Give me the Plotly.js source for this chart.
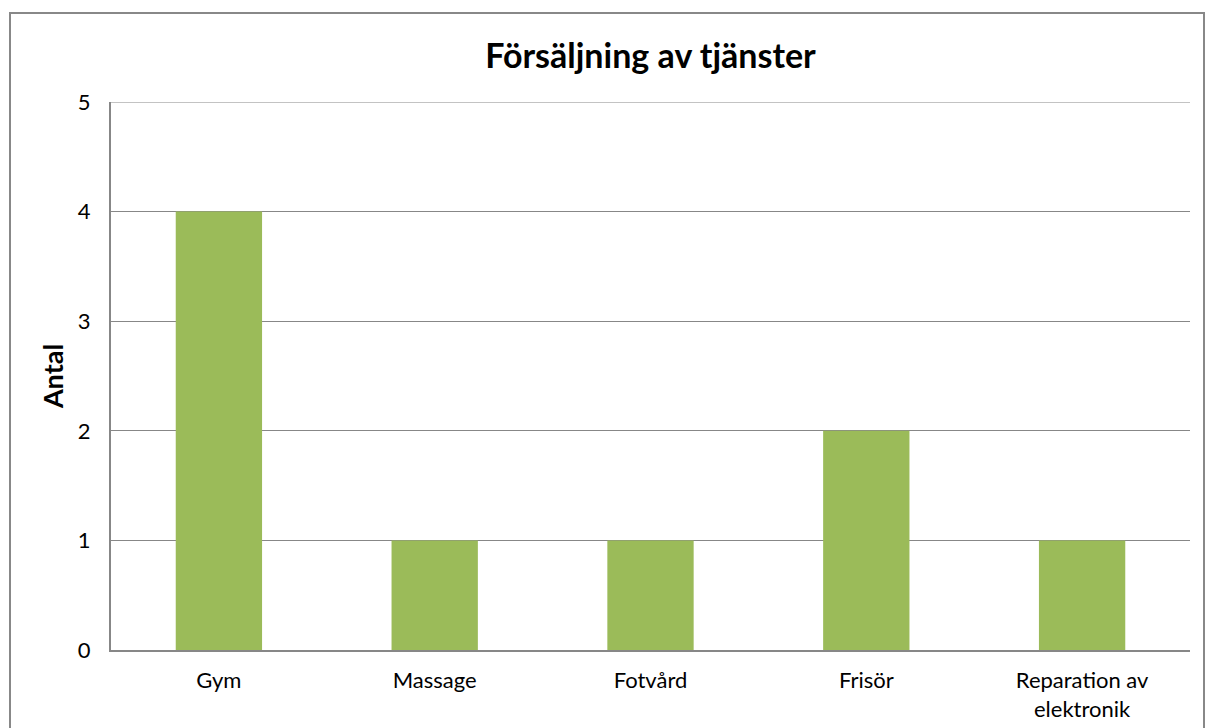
<!DOCTYPE html>
<html><head><meta charset="utf-8">
<script src="https://cdn.plot.ly/plotly-3.0.1.min.js"></script>
<style>
html,body{margin:0;padding:0;background:#fff;overflow:hidden;}
#chart{width:1208px;height:728px;}
#frame{position:absolute;left:9px;top:12px;width:1196px;height:800px;border:2px solid #888;box-sizing:border-box;pointer-events:none;}
</style></head>
<body>
<div id="chart"></div>
<div id="frame"></div>
<script>
const categories = ["Gym", "Massage", "Fotvård", "Frisör", "Reparation av<br>elektronik"];
const values = [4, 1, 1, 2, 1];
const yTicks = [0, 1, 2, 3, 4, 5];
const yTickLabels = ["0", "1", "2", "3", "4", "5"];

const trace = {
  type: "bar",
  x: categories,
  y: values,
  marker: {color: "#9BBB59"},
  hoverinfo: "x+y"
};

const layout = {
  width: 1208, height: 728,
  margin: {l: 111, r: 18, t: 102, b: 78},
  paper_bgcolor: "#fff",
  plot_bgcolor: "#fff",
  font: {family: "Lato, 'Open Sans', sans-serif", color: "#000", size: 22},
  title: {text: "<b>Försäljning av tjänster</b>", x: 0.5, xref: "paper", y: 0.923, yanchor: "middle",
          font: {size: 34, family: "Lato, 'Open Sans', sans-serif", color: "#000"}},
  bargap: 0.6,
  showlegend: false,
  xaxis: {
    showline: true, linecolor: "#878787", linewidth: 2,
    showgrid: false, ticks: "", tickfont: {size: 22}, ticklabelstandoff: 10,
    fixedrange: true, automargin: false
  },
  yaxis: {
    range: [0, 5], tickvals: yTicks, ticktext: yTickLabels,
    showgrid: true, gridcolor: "#878787", gridwidth: 1,
    showline: true, linecolor: "#878787", linewidth: 2,
    zeroline: false, ticks: "", ticklabelstandoff: 14,
    tickfont: {size: 22},
    title: {text: "<b>Antal</b>", font: {size: 27}, standoff: 6},
    fixedrange: true, automargin: false
  },
  shapes: [{type: "line", xref: "paper", yref: "y", x0: 0, x1: 1, y0: 5, y1: 5,
            line: {color: "#878787", width: 1}}]
};

Plotly.newPlot("chart", [trace], layout, {displayModeBar: false, staticPlot: true});
</script>
</body></html>
